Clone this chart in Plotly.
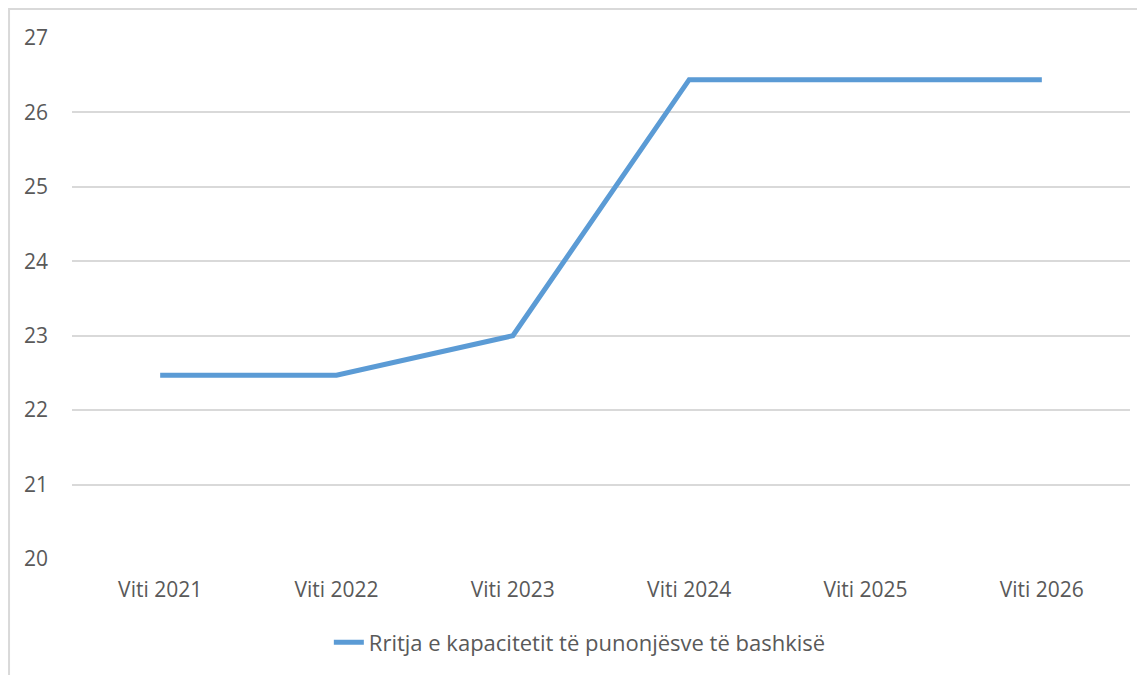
import plotly.graph_objects as go

categories = ["Viti 2021", "Viti 2022", "Viti 2023", "Viti 2024", "Viti 2025", "Viti 2026"]
values = [22.47, 22.47, 23.0, 26.44, 26.44, 26.44]
series_name = "Rritja e kapacitetit të punonjësve të bashkisë"
y_ticks = [20, 21, 22, 23, 24, 25, 26, 27]

FONT = "Open Sans"
TXT = "#595959"

fig = go.Figure()
fig.add_trace(go.Scatter(
    x=categories, y=values, mode="lines", name=series_name,
    line=dict(color="#5B9BD5", width=5),
))

fig.update_layout(
    width=1137, height=667,
    margin=dict(l=64, r=15, t=30, b=116),
    paper_bgcolor="white", plot_bgcolor="white",
    font=dict(family=FONT, size=21, color=TXT),
    showlegend=True,
    legend=dict(orientation="h", x=0.48, xanchor="center", y=-0.16, yanchor="middle",
                font=dict(family=FONT, size=22, color=TXT)),
    xaxis=dict(range=[-0.5, 5.5], showgrid=False, zeroline=False, showline=False, ticks="",
               ticklabelstandoff=16, tickfont=dict(size=21, color=TXT)),
    yaxis=dict(range=[20, 27], tickvals=y_ticks, showgrid=True, gridcolor="#D9D9D9",
               gridwidth=1.5, zeroline=False, showline=False, ticks="",
               ticklabelstandoff=23, tickfont=dict(size=21, color=TXT)),
    shapes=[dict(type="rect", xref="paper", yref="paper",
                 x0=-0.0595, x1=1.03, y0=-0.3, y1=1.0557,
                 line=dict(color="#D9D9D9", width=2), layer="below")],
)

fig.write_html("out.html")
